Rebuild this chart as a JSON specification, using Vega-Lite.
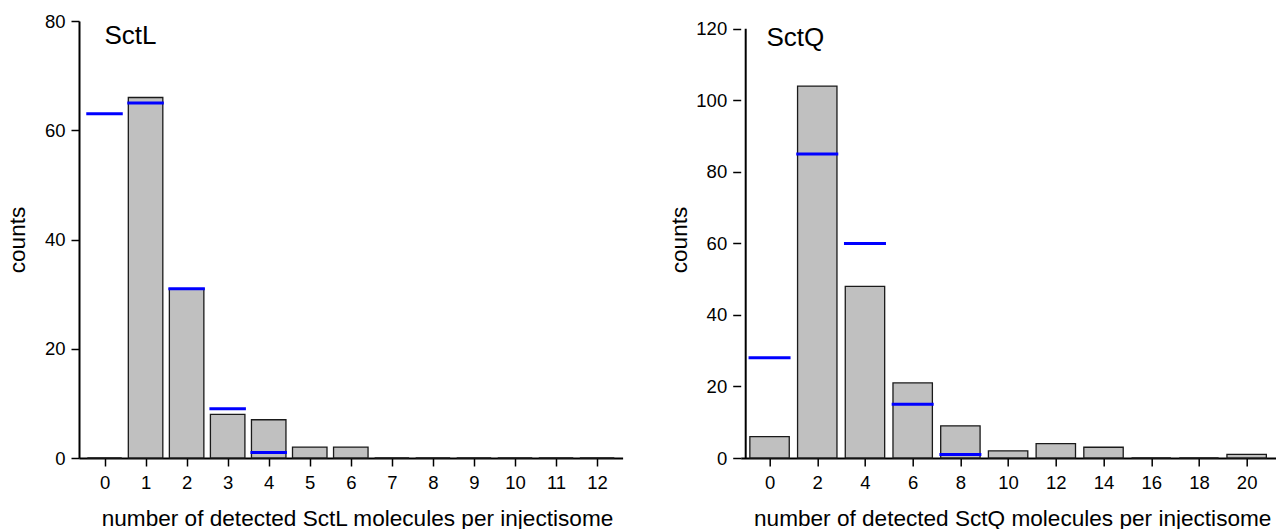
{
  "$schema": "https://vega.github.io/schema/vega-lite/v6.json",
  "padding": {"left": 6, "top": 12, "right": 0, "bottom": 0},
  "background": "white",
  "config": {
    "font": "Liberation Sans",
    "view": {"stroke": null},
    "axis": {
      "grid": false,
      "domainColor": "black",
      "domainWidth": 2,
      "tickColor": "black",
      "tickWidth": 1.5,
      "tickSize": 8,
      "labelColor": "black",
      "labelFontSize": 18.5,
      "titleColor": "black",
      "titleFontSize": 22.6,
      "titleFontWeight": "normal",
      "labelFlush": false,
      "labelOverlap": false
    }
  },
  "datasets": {
    "sctl": [
      {"n": 0, "counts": 0, "model": 63},
      {"n": 1, "counts": 66, "model": 65},
      {"n": 2, "counts": 31, "model": 31},
      {"n": 3, "counts": 8, "model": 9},
      {"n": 4, "counts": 7, "model": 1},
      {"n": 5, "counts": 2, "model": null},
      {"n": 6, "counts": 2, "model": null},
      {"n": 7, "counts": 0, "model": null},
      {"n": 8, "counts": 0, "model": null},
      {"n": 9, "counts": 0, "model": null},
      {"n": 10, "counts": 0, "model": null},
      {"n": 11, "counts": 0, "model": null},
      {"n": 12, "counts": 0, "model": null}
    ],
    "sctq": [
      {"n": 0, "counts": 6, "model": 28},
      {"n": 2, "counts": 104, "model": 85},
      {"n": 4, "counts": 48, "model": 60},
      {"n": 6, "counts": 21, "model": 15},
      {"n": 8, "counts": 9, "model": 1},
      {"n": 10, "counts": 2, "model": null},
      {"n": 12, "counts": 4, "model": null},
      {"n": 14, "counts": 3, "model": null},
      {"n": 16, "counts": 0, "model": null},
      {"n": 18, "counts": 0, "model": null},
      {"n": 20, "counts": 1, "model": null}
    ]
  },
  "spacing": 117.7,
  "bounds": "flush",
  "hconcat": [
    {
      "width": 543.6,
      "height": 437,
      "layer": [
        {
          "data": {"name": "sctl"},
          "mark": {"type": "bar", "width": 34.5, "fill": "#c0c0c0", "stroke": "#1a1a1a", "strokeWidth": 1.3},
          "encoding": {
            "x": {
              "field": "n", "type": "quantitative",
              "scale": {"domain": [-0.5, 12.5], "nice": false, "zero": false},
              "axis": {
                "values": [0, 1, 2, 3, 4, 5, 6, 7, 8, 9, 10, 11, 12],
                "labelPadding": 7,
                "title": "number of detected SctL molecules per injectisome",
                "titleX": 278,
                "titleY": 67,
                "titleBaseline": "alphabetic"
              }
            },
            "y": {
              "field": "counts", "type": "quantitative",
              "scale": {"domain": [0, 80], "nice": false},
              "axis": {
                "values": [0, 20, 40, 60, 80],
                "labelPadding": 6,
                "title": "counts",
                "titleX": -55,
                "titleBaseline": "alphabetic"
              }
            }
          }
        },
        {
          "data": {"name": "sctl"},
          "mark": {"type": "tick", "orient": "horizontal", "size": 36.5, "thickness": 3, "color": "#0000ff", "opacity": 1},
          "encoding": {
            "x": {"field": "n", "type": "quantitative"},
            "y": {"field": "model", "type": "quantitative"}
          }
        },
        {
          "data": {"values": [{"label": "SctL"}]},
          "mark": {"type": "text", "fontSize": 26, "align": "left", "baseline": "alphabetic", "color": "black"},
          "encoding": {
            "x": {"datum": 0.0},
            "y": {"datum": 75.8},
            "text": {"field": "label"}
          }
        }
      ]
    },
    {
      "width": 534.8,
      "height": 437,
      "layer": [
        {
          "data": {"name": "sctq"},
          "mark": {"type": "bar", "width": 39.4, "fill": "#c0c0c0", "stroke": "#1a1a1a", "strokeWidth": 1.3},
          "encoding": {
            "x": {
              "field": "n", "type": "quantitative",
              "scale": {"domain": [-1, 21], "nice": false, "zero": false},
              "axis": {
                "values": [0, 2, 4, 6, 8, 10, 12, 14, 16, 18, 20],
                "labelPadding": 7,
                "title": "number of detected SctQ molecules per injectisome",
                "titleX": 271.5,
                "titleY": 67,
                "titleBaseline": "alphabetic"
              }
            },
            "y": {
              "field": "counts", "type": "quantitative",
              "scale": {"domain": [0, 122.2], "nice": false},
              "axis": {
                "values": [0, 20, 40, 60, 80, 100, 120],
                "domain": false,
                "labelPadding": 6,
                "title": "counts",
                "titleX": -54,
                "titleBaseline": "alphabetic"
              }
            }
          }
        },
        {
          "data": {"name": "sctq"},
          "mark": {"type": "tick", "orient": "horizontal", "size": 42, "thickness": 3, "color": "#0000ff", "opacity": 1},
          "encoding": {
            "x": {"field": "n", "type": "quantitative"},
            "y": {"field": "model", "type": "quantitative"}
          }
        },
        {
          "data": {"values": [{}]},
          "mark": {"type": "rule", "color": "black", "strokeWidth": 2},
          "encoding": {
            "x": {"datum": -1},
            "y": {"datum": 0},
            "y2": {"datum": 120}
          }
        },
        {
          "data": {"values": [{"label": "SctQ"}]},
          "mark": {"type": "text", "fontSize": 26, "align": "left", "baseline": "alphabetic", "color": "black"},
          "encoding": {
            "x": {"datum": -0.13},
            "y": {"datum": 115.1},
            "text": {"field": "label"}
          }
        }
      ]
    }
  ]
}
